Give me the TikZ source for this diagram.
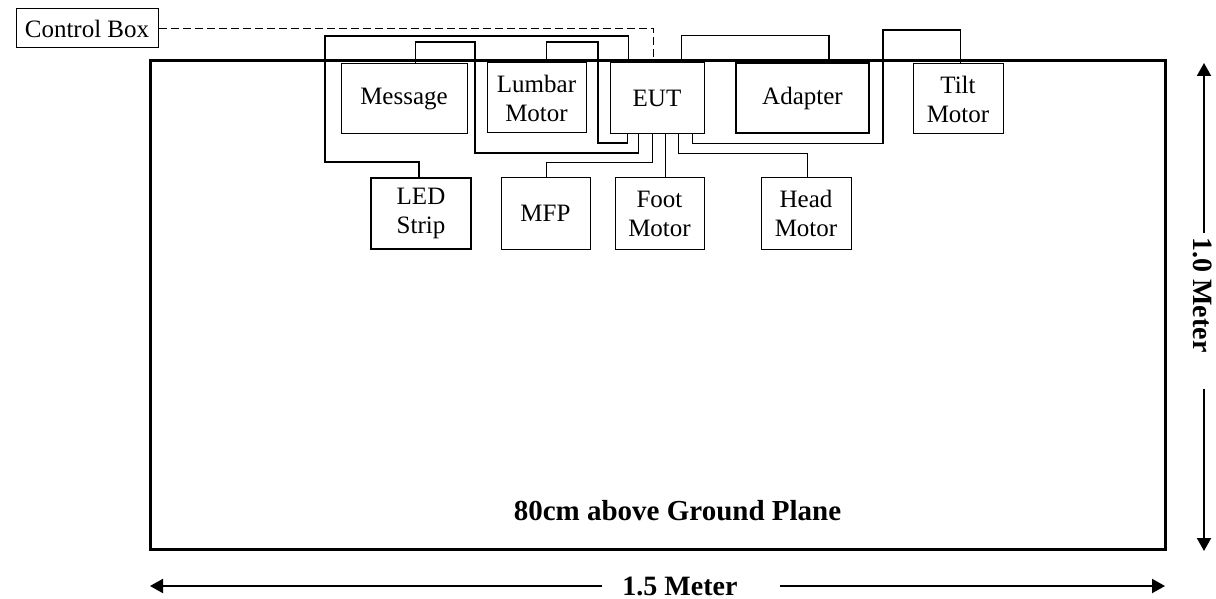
\documentclass[tikz,border=0pt]{standalone}
\usepackage{fontspec}
\setmainfont{Liberation Serif}
\usetikzlibrary{arrows.meta}
\begin{document}
\begin{tikzpicture}[x=1pt,y=-1pt,
  box/.style={draw, line width=1pt, inner sep=0pt, align=center, font=\fontsize{25}{29}\selectfont},
  thickbox/.style={box, line width=2pt},
  wire/.style={line width=1.1pt},
  heavywire/.style={line width=1.7pt},
  ctrlwire/.style={line width=1.3pt, dash pattern=on 8pt off 4pt},
  dimline/.style={line width=2pt, -{Triangle[length=13pt,width=14pt]}},
  boldlabel/.style={inner sep=0pt, font=\fontsize{28}{32}\selectfont\bfseries}]
\useasboundingbox (0,0) rectangle (1216,599);

% table
\node[draw, line width=3pt, minimum width=1015pt, minimum height=488pt, inner sep=0pt] (table) at (657.5,305) {};

% devices
\node[box, minimum width=142pt, minimum height=39pt] (CB) at (87,28.5) {Control Box};
\node[box, minimum width=126pt, minimum height=70pt] (Message) at (404,99) {Message};
\node[box, minimum width=99pt, minimum height=70pt] (Lumbar) at (536.5,98) {Lumbar\\Motor};
\node[box, minimum width=94pt, minimum height=71pt] (EUT) at (657,98.5) {EUT};
\node[thickbox, minimum width=133pt, minimum height=70pt] (Adapter) at (802.5,98) {Adapter};
\node[box, minimum width=90pt, minimum height=70pt] (Tilt) at (958,99) {Tilt\\Motor};
\node[thickbox, minimum width=100pt, minimum height=71pt] (LED) at (421,213.5) {LED\\Strip};
\node[box, minimum width=89pt, minimum height=71pt] (MFP) at (545.5,213.5) {MFP};
\node[box, minimum width=89pt, minimum height=71pt] (Foot) at (659.5,213.5) {Foot\\Motor};
\node[box, minimum width=90pt, minimum height=71pt] (Head) at (806,213.5) {Head\\Motor};

% cables
\draw[ctrlwire] (CB.east) -| ([xshift=44pt]EUT.north west);
\draw[heavywire] ([xshift=19pt]EUT.north west) |- (325,36) -- (325,162) -| ([xshift=49pt]LED.north west);
\draw[wire] ([xshift=75pt]Message.north west) |- (475,42) -- (475,153) -| ([xshift=29pt]EUT.south west);
\draw[wire] ([xshift=60pt]Lumbar.north west) |- (598,42) -- (598,143) -| ([xshift=18pt]EUT.south west);
\draw[wire] ([xshift=43pt]EUT.south west) -- ++(0,28) -| ([xshift=46pt]MFP.north west);
\draw[wire] ([xshift=56pt]EUT.south west) -- ([xshift=51pt]Foot.north west);
\draw[wire] ([xshift=69pt]EUT.south west) -- ++(0,19) -| ([xshift=47pt]Head.north west);
\draw[wire] ([xshift=83pt]EUT.south west) -- ++(0,9) -| (883,30) -| ([xshift=48pt]Tilt.north west);
\draw[heavywire] ([xshift=72pt]EUT.north west) -- ++(0,-27) -| ([xshift=94pt]Adapter.north west);

% labels and dimensions
\node[boldlabel, font=\fontsize{29}{33}\selectfont\bfseries, anchor=base] (plane) at (677.5,520) {80cm above Ground Plane};
\node[boldlabel] (wlab) at (680,586) {1.5 Meter};
\node[boldlabel, rotate=-90] (hlab) at (1203,295) {1.0 Meter};
\coordinate (wl) at (150,586);
\coordinate (wr) at (1165,586);
\coordinate (ht) at (1204,63);
\coordinate (hb) at (1204,551);
\draw[dimline] ([xshift=-20pt]wlab.west) -- (wl);
\draw[dimline] ([xshift=42pt]wlab.east) -- (wr);
\draw[dimline] ([yshift=4pt]hlab.west -| ht) -- (ht);
\draw[dimline] ([yshift=-36pt]hlab.east -| hb) -- (hb);
\end{tikzpicture}
\end{document}
